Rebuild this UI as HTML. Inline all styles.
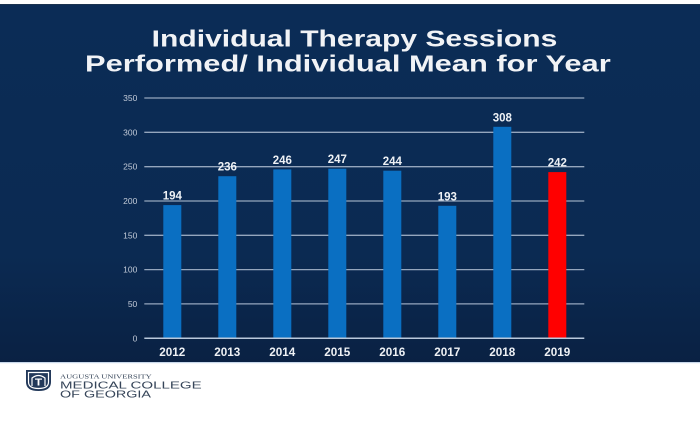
<!DOCTYPE html>
<html>
<head>
<meta charset="utf-8">
<style>
html,body{margin:0;padding:0;background:#fff;}
svg{display:block;}
</style>
</head>
<body>
<svg width="700" height="430" viewBox="0 0 700 430" xmlns="http://www.w3.org/2000/svg">
  <defs>
    <linearGradient id="bg" x1="0" y1="0" x2="0" y2="1">
      <stop offset="0" stop-color="#0b2c56"/>
      <stop offset="0.7" stop-color="#0b2a52"/>
      <stop offset="1" stop-color="#0a2143"/>
    </linearGradient>
  </defs>
  <rect x="0" y="0" width="700" height="430" fill="#ffffff"/>
  <rect x="0" y="4.5" width="700" height="357.5" fill="url(#bg)"/>
  <rect x="0" y="4" width="700" height="1" fill="#1a3350"/>
  <rect x="0" y="362" width="700" height="1.2" fill="#c9d8ea"/>

  <!-- Title -->
  <g font-family="'Liberation Sans', Arial, sans-serif" font-weight="bold" font-size="23" fill="#f1f3f6">
    <text x="151.7" y="46.3" textLength="405.6" lengthAdjust="spacingAndGlyphs">Individual Therapy Sessions</text>
    <text x="85" y="71.3" textLength="525.7" lengthAdjust="spacingAndGlyphs">Performed/ Individual Mean for Year</text>
  </g>

  <!-- Gridlines -->
  <g stroke="#95a6bd" stroke-width="1.3">
    <line x1="144.3" y1="98" x2="584.3" y2="98"/>
    <line x1="144.3" y1="132.3" x2="584.3" y2="132.3"/>
    <line x1="144.3" y1="166.7" x2="584.3" y2="166.7"/>
    <line x1="144.3" y1="201" x2="584.3" y2="201"/>
    <line x1="144.3" y1="235.3" x2="584.3" y2="235.3"/>
    <line x1="144.3" y1="269.6" x2="584.3" y2="269.6"/>
    <line x1="144.3" y1="303.9" x2="584.3" y2="303.9"/>
  </g>

  <!-- Y labels -->
  <g font-family="'Liberation Sans', Arial, sans-serif" font-size="8.5" fill="#c3cbd8" text-anchor="end">
    <text x="137.3" y="101">350</text>
    <text x="137.3" y="135.3">300</text>
    <text x="137.3" y="169.7">250</text>
    <text x="137.3" y="204">200</text>
    <text x="137.3" y="238.3">150</text>
    <text x="137.3" y="272.6">100</text>
    <text x="137.3" y="306.9">50</text>
    <text x="137.3" y="341.3">0</text>
  </g>

  <!-- Bars -->
  <g fill="#0a6fc2">
    <rect x="163.3" y="205.1" width="18" height="133.2"/>
    <rect x="218.3" y="176.2" width="18" height="162.1"/>
    <rect x="273.3" y="169.4" width="18" height="168.9"/>
    <rect x="328.3" y="168.7" width="18" height="169.6"/>
    <rect x="383.3" y="170.7" width="18" height="167.6"/>
    <rect x="438.3" y="205.8" width="18" height="132.5"/>
    <rect x="493.3" y="126.8" width="18" height="211.5"/>
  </g>
  <rect x="548.3" y="172.1" width="18" height="166.2" fill="#ff0000"/>

  <!-- Baseline -->
  <line x1="144.3" y1="338.3" x2="584.3" y2="338.3" stroke="#b9c8db" stroke-width="1.5"/>

  <!-- Value labels -->
  <g font-family="'Liberation Sans', Arial, sans-serif" font-weight="bold" font-size="11.5" fill="#eef1f5" text-anchor="middle">
    <text x="172.3" y="199.6">194</text>
    <text x="227.3" y="170.7">236</text>
    <text x="282.3" y="163.9">246</text>
    <text x="337.3" y="163.2">247</text>
    <text x="392.3" y="165.2">244</text>
    <text x="447.3" y="200.3">193</text>
    <text x="502.3" y="121.3">308</text>
    <text x="557.3" y="166.6">242</text>
  </g>

  <!-- X labels -->
  <g font-family="'Liberation Sans', Arial, sans-serif" font-weight="bold" font-size="11.7" fill="#eef1f5" text-anchor="middle">
    <text x="172.3" y="356">2012</text>
    <text x="227.3" y="356">2013</text>
    <text x="282.3" y="356">2014</text>
    <text x="337.3" y="356">2015</text>
    <text x="392.3" y="356">2016</text>
    <text x="447.3" y="356">2017</text>
    <text x="502.3" y="356">2018</text>
    <text x="557.3" y="356">2019</text>
  </g>

  <!-- Logo shield -->
  <g>
    <path d="M26 370 H51 V382 Q51 391 38.5 391 Q26 391 26 382 Z" fill="#23395a"/>
    <path d="M28.5 372.5 H48.5 V382 Q48.5 388.5 38.5 388.5 Q28.5 388.5 28.5 382 Z" fill="none" stroke="#ffffff" stroke-width="1.2"/>
    <path d="M32 386 V378 Q38.5 373 45 378 V386" fill="none" stroke="#ffffff" stroke-width="1.2"/>
    <rect x="35" y="378.5" width="7" height="1.2" fill="#ffffff"/>
    <rect x="37.6" y="379.5" width="1.8" height="6" fill="#ffffff"/>
  </g>
  <g fill="#364559">
    <text x="60" y="378.3" font-family="'Liberation Serif', serif" font-size="5.8" textLength="91.7" lengthAdjust="spacingAndGlyphs">AUGUSTA UNIVERSITY</text>
    <text x="60" y="388.6" font-family="'Liberation Sans', Arial, sans-serif" font-size="10.2" textLength="141.7" lengthAdjust="spacingAndGlyphs">MEDICAL COLLEGE</text>
    <text x="60" y="397.6" font-family="'Liberation Sans', Arial, sans-serif" font-size="10.2" textLength="91" lengthAdjust="spacingAndGlyphs">OF GEORGIA</text>
  </g>
</svg>
</body>
</html>
